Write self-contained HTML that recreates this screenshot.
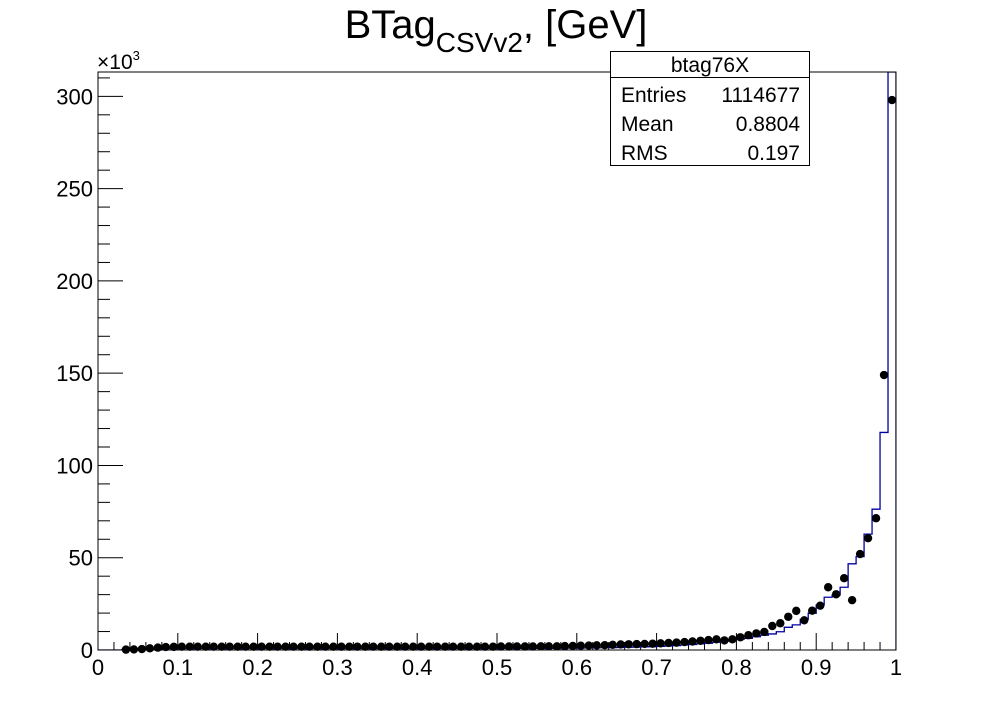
<!DOCTYPE html>
<html><head><meta charset="utf-8">
<style>
html,body{margin:0;padding:0;background:#fff;}
svg{display:block;font-family:"Liberation Sans",Arial,sans-serif;}
</style></head>
<body>
<svg id="chart" width="996" height="723" viewBox="0 0 996 723">
<rect width="996" height="723" fill="#fff"/>
<text x="496" y="38" font-size="40" text-anchor="middle">BTag<tspan font-size="28" dy="14">CSVv2</tspan><tspan dy="-14">, [GeV]</tspan></text>
<text x="97" y="69" font-size="21">×10<tspan font-size="13" dy="-9">3</tspan></text>
<g id="axes"></g>
<g id="hist"></g>
<g id="points"></g>
<rect x="98" y="72" width="798" height="578" fill="none" stroke="#000" stroke-width="1"/>
<g>
<rect x="610.5" y="51.5" width="199" height="114" fill="#fff" stroke="#000"/>
<line x1="610" y1="77.5" x2="810" y2="77.5" stroke="#000"/>
<text x="710" y="72" font-size="21" text-anchor="middle">btag76X</text>
<text x="621" y="102" font-size="21">Entries</text>
<text x="800" y="102" font-size="21" text-anchor="end">1114677</text>
<text x="621" y="131" font-size="21">Mean</text>
<text x="800" y="131" font-size="21" text-anchor="end">0.8804</text>
<text x="621" y="160" font-size="21">RMS</text>
<text x="800" y="160" font-size="21" text-anchor="end">0.197</text>
</g>
</svg>
<script>
// histogram (blue) bin contents in thousands, 100 bins over [0,1]
const histValues = [0,0,0,0.3,0.4,0.5,0.6,0.7,0.8,0.8,
0.8,0.8,0.8,0.8,0.8,0.8,0.8,0.8,0.8,0.8,
0.8,0.8,0.8,0.8,0.8,0.8,0.8,0.8,0.8,0.8,
0.8,0.8,0.8,0.8,0.8,0.8,0.8,0.8,0.8,0.8,
0.8,0.8,0.8,0.8,0.8,0.8,0.8,0.8,0.8,0.8,
0.9,0.9,0.9,0.9,0.9,0.9,0.9,1.0,1.0,1.0,
1.1,1.1,1.2,1.2,1.3,1.4,1.5,1.6,1.7,1.8,
2.0,2.2,2.4,2.7,3.0,3.3,3.7,4.2,4.8,5.5,
6.0,6.3,7.2,8.0,8.7,9.9,12.3,13.6,16.6,19.9,
24.4,28.6,29.8,34.0,46.7,50.6,62.8,76.3,117.9,330];
// data points (black) in thousands
const pointValues = [null,null,null,0.2,0.3,0.5,0.9,1.3,1.6,1.7,
1.8,1.8,1.8,1.8,1.8,1.8,1.8,1.8,1.8,1.8,
1.8,1.8,1.8,1.8,1.8,1.8,1.8,1.8,1.8,1.8,
1.8,1.8,1.8,1.8,1.8,1.8,1.8,1.8,1.8,1.8,
1.8,1.8,1.8,1.8,1.8,1.8,1.8,1.8,1.8,1.8,
1.9,1.9,1.9,1.9,1.9,2.0,2.0,2.0,2.1,2.2,
2.3,2.4,2.5,2.6,2.8,3.0,3.1,3.2,3.3,3.4,
3.6,3.8,4.0,4.3,4.6,5.0,5.4,5.8,5.2,5.8,
6.9,8.0,9.0,9.8,13.0,14.5,18.0,21.2,16.1,21.3,
24.0,34.0,30.2,38.9,27.0,52.0,60.6,71.4,149.0,298.0];
const yTicks = [0,50,100,150,200,250,300];
const xTicks = [0,0.1,0.2,0.3,0.4,0.5,0.6,0.7,0.8,0.9,1];
const xTickLabels = ["0","0.1","0.2","0.3","0.4","0.5","0.6","0.7","0.8","0.9","1"];

const X0=98,X1=896,Y0=650,Y1=72,YMAX=313.2;
const NS="http://www.w3.org/2000/svg";
function sx(v){return X0+(X1-X0)*v;}
function sy(v){return Y0-(Y0-Y1)*Math.min(v,YMAX)/YMAX;}
function mk(tag,attrs,parent){const e=document.createElementNS(NS,tag);for(const k in attrs)e.setAttribute(k,attrs[k]);parent.appendChild(e);return e;}
const axes=document.getElementById('axes');
for(let v=0;v<=310;v+=10){
  const major=v%50===0;
  const t=mk('line',{x1:X0,x2:X0+(major?25:12),y1:sy(v),y2:sy(v),stroke:'#000'},axes);
  
  
}
yTicks.forEach(v=>{
  const t=mk('text',{x:93,y:sy(v)+8,'font-size':22,'text-anchor':'end'},axes);
  t.textContent=String(v);
  
  
});
for(let i=0;i<=50;i++){
  const v=i/50, major=i%5===0;
  const t=mk('line',{x1:sx(v),x2:sx(v),y1:Y0,y2:Y0-(major?17:8),stroke:'#000'},axes);
  
  
}
xTicks.forEach((v,i)=>{
  const t=mk('text',{x:sx(v),y:675,'font-size':22,'text-anchor':'middle'},axes);
  t.textContent=xTickLabels[i];
  
  
});
const n=histValues.length;
let d='M'+sx(0)+','+sy(0);
histValues.forEach((v,i)=>{d+=' L'+sx(i/n)+','+sy(v)+' L'+sx((i+1)/n)+','+sy(v);});
d+=' L'+sx(1)+','+sy(0);
const clip=mk('clipPath',{id:'fr'},document.getElementById('chart'));
mk('rect',{x:X0,y:Y1,width:X1-X0,height:Y0-Y1},clip);
const h=mk('path',{d:d,fill:'none',stroke:'#0000a0','stroke-width':1.3,'clip-path':'url(#fr)'},document.getElementById('hist'));


const pg=document.getElementById('points');
pointValues.forEach((v,i)=>{
  if(v===null)return;
  const c=mk('circle',{cx:sx((i+0.5)/n),cy:sy(v),r:4.2,fill:'#000'},pg);
  
  
});
</script>
</body></html>
